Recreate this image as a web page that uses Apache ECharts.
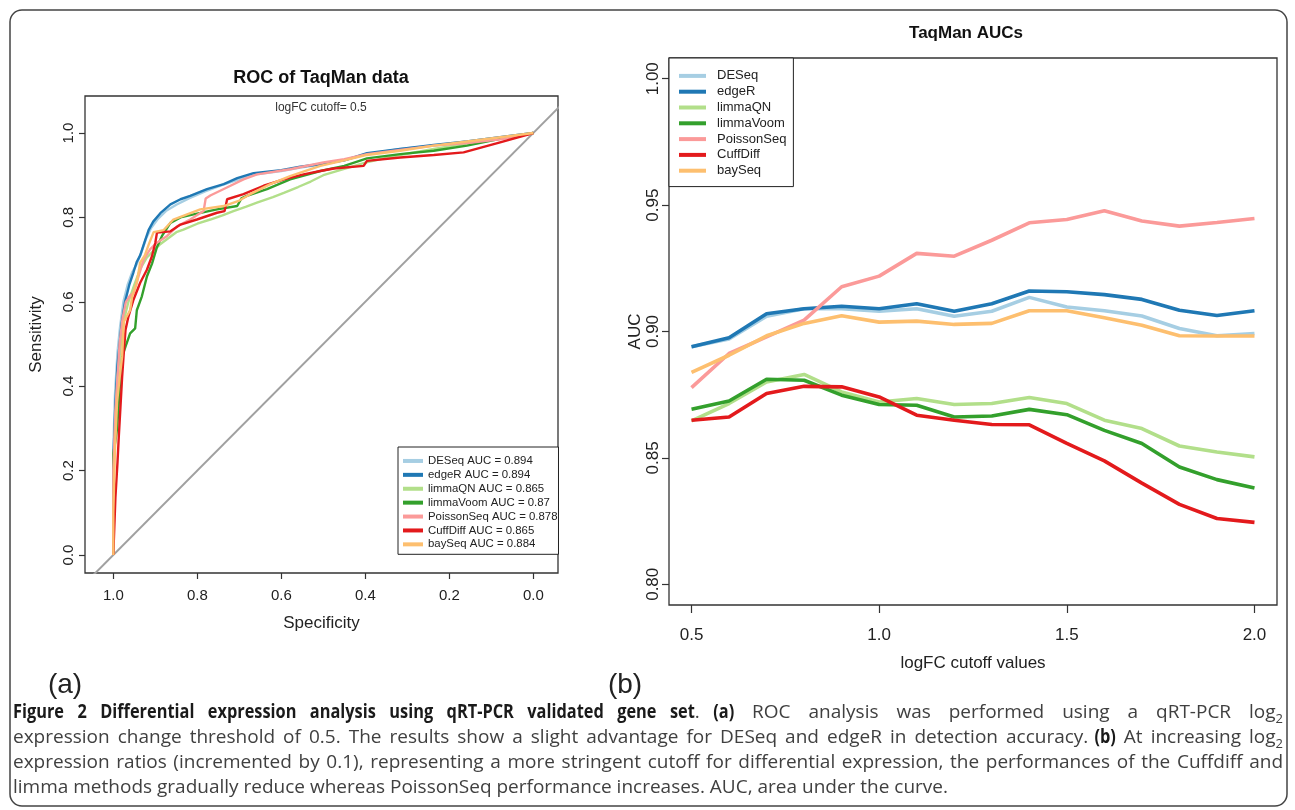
<!DOCTYPE html>
<html>
<head>
<meta charset="utf-8">
<script src="https://cdn.jsdelivr.net/npm/echarts@6/dist/echarts.min.js"></script>
<style>
html, body { margin: 0; padding: 0; background: #fff; }
#main { width: 1295px; height: 810px; }
</style>
</head>
<body>
<div id="main"></div>
<script>
// methods, colours (ColorBrewer Paired) and ROC AUC values from the legend
const methods = ['DESeq', 'edgeR', 'limmaQN', 'limmaVoom', 'PoissonSeq', 'CuffDiff', 'baySeq'];
const colors = ['#a6cee3', '#1f78b4', '#b2df8a', '#33a02c', '#fb9a99', '#e31a1c', '#fdbf6f'];
const rocAuc = ['0.894', '0.894', '0.865', '0.87', '0.878', '0.865', '0.884'];

// ROC curves, [specificity, sensitivity]
const rocDESeq = [[1,0],[1,0.25],[0.996,0.38],[0.99,0.48],[0.984,0.54],[0.976,0.6],[0.966,0.64],[0.955,0.67],[0.944,0.69],[0.934,0.715],[0.922,0.75],[0.91,0.775],[0.895,0.795],[0.875,0.815],[0.85,0.83],[0.82,0.845],[0.78,0.862],[0.74,0.877],[0.7,0.89],[0.66,0.902],[0.6,0.91],[0.555,0.918],[0.5,0.926],[0.45,0.936],[0.396,0.95],[0.317,0.962],[0.237,0.97],[0.158,0.98],[0.079,0.99],[0,1]];
const rocEdgeR = [[1,0],[1,0.22],[0.995,0.36],[0.99,0.45],[0.985,0.5],[0.98,0.55],[0.972,0.6],[0.962,0.64],[0.952,0.67],[0.944,0.695],[0.936,0.71],[0.926,0.74],[0.916,0.77],[0.905,0.79],[0.888,0.81],[0.864,0.831],[0.84,0.843],[0.817,0.851],[0.777,0.867],[0.737,0.879],[0.705,0.893],[0.666,0.905],[0.6,0.912],[0.555,0.92],[0.5,0.927],[0.45,0.935],[0.396,0.952],[0.317,0.962],[0.237,0.972],[0.158,0.98],[0.079,0.99],[0,1]];
const rocLimmaQN = [[1,0],[1,0.2],[0.995,0.32],[0.99,0.42],[0.982,0.5],[0.974,0.56],[0.964,0.6],[0.95,0.64],[0.935,0.68],[0.92,0.705],[0.905,0.72],[0.89,0.735],[0.87,0.75],[0.85,0.765],[0.833,0.771],[0.8,0.785],[0.769,0.795],[0.74,0.805],[0.714,0.815],[0.685,0.825],[0.658,0.835],[0.62,0.848],[0.594,0.858],[0.56,0.872],[0.53,0.885],[0.5,0.9],[0.45,0.915],[0.4,0.93],[0.317,0.948],[0.237,0.962],[0.158,0.975],[0.079,0.988],[0,1]];
const rocLimmaVoom = [[1,0],[1,0.15],[1,0.24],[0.995,0.27],[0.991,0.3],[0.987,0.36],[0.983,0.42],[0.979,0.47],[0.971,0.494],[0.96,0.525],[0.948,0.537],[0.944,0.58],[0.932,0.613],[0.92,0.66],[0.908,0.69],[0.896,0.73],[0.884,0.756],[0.864,0.787],[0.84,0.8],[0.809,0.807],[0.753,0.819],[0.705,0.827],[0.695,0.845],[0.682,0.851],[0.634,0.867],[0.579,0.89],[0.507,0.91],[0.45,0.922],[0.396,0.94],[0.317,0.95],[0.237,0.958],[0.158,0.97],[0.079,0.986],[0,1]];
const rocPoissonSeq = [[1,0],[1,0.2],[0.995,0.34],[0.99,0.42],[0.985,0.5],[0.978,0.56],[0.97,0.6],[0.96,0.615],[0.952,0.62],[0.94,0.66],[0.928,0.7],[0.912,0.725],[0.896,0.74],[0.872,0.756],[0.848,0.779],[0.817,0.795],[0.785,0.815],[0.78,0.845],[0.769,0.852],[0.721,0.875],[0.69,0.89],[0.658,0.902],[0.579,0.914],[0.5,0.93],[0.45,0.938],[0.396,0.95],[0.317,0.96],[0.237,0.97],[0.158,0.976],[0.079,0.985],[0,1]];
const rocCuffDiff = [[1,0],[0.995,0.136],[0.99,0.22],[0.987,0.279],[0.983,0.35],[0.979,0.422],[0.975,0.48],[0.971,0.533],[0.964,0.565],[0.952,0.605],[0.936,0.645],[0.92,0.676],[0.908,0.708],[0.9,0.74],[0.896,0.764],[0.864,0.767],[0.84,0.783],[0.801,0.795],[0.753,0.811],[0.735,0.815],[0.729,0.843],[0.69,0.855],[0.642,0.875],[0.594,0.89],[0.547,0.902],[0.507,0.91],[0.475,0.916],[0.404,0.922],[0.396,0.934],[0.317,0.942],[0.237,0.948],[0.166,0.954],[0.079,0.978],[0,1]];
const rocBaySeq = [[1,0],[1,0.1],[0.996,0.25],[0.991,0.363],[0.985,0.42],[0.979,0.47],[0.975,0.553],[0.96,0.58],[0.955,0.613],[0.944,0.645],[0.936,0.693],[0.925,0.71],[0.916,0.735],[0.908,0.755],[0.904,0.765],[0.88,0.77],[0.857,0.795],[0.793,0.819],[0.737,0.827],[0.7,0.84],[0.674,0.855],[0.626,0.879],[0.579,0.898],[0.507,0.922],[0.45,0.935],[0.396,0.948],[0.317,0.958],[0.237,0.97],[0.158,0.98],[0.079,0.99],[0,1]];
const diagonal = [[1.2,-0.2],[-0.2,1.2]];

// AUC per logFC cutoff
const cutoffs = [0.5,0.6,0.7,0.8,0.9,1.0,1.1,1.2,1.3,1.4,1.5,1.6,1.7,1.8,1.9,2.0];
const aucDESeq = [0.894,0.897,0.906,0.909,0.909,0.908,0.909,0.906,0.908,0.9135,0.9097,0.9082,0.9061,0.9012,0.8983,0.8992];
const aucEdgeR = [0.894,0.8975,0.907,0.909,0.910,0.909,0.911,0.908,0.911,0.916,0.9157,0.9146,0.9127,0.9084,0.9063,0.9082];
const aucLimmaQN = [0.8646,0.8715,0.880,0.883,0.8761,0.8721,0.8735,0.8711,0.8715,0.8739,0.8715,0.8649,0.8616,0.8547,0.8523,0.8504];
const aucLimmaVoom = [0.8692,0.8725,0.8811,0.8807,0.8748,0.8711,0.8708,0.8662,0.8666,0.8692,0.8671,0.8609,0.8557,0.8464,0.8414,0.8381];
const aucPoissonSeq = [0.8778,0.8913,0.8979,0.9045,0.9177,0.9219,0.9309,0.9298,0.9361,0.943,0.9443,0.9478,0.9437,0.9417,0.9431,0.9447];
const aucCuffDiff = [0.8649,0.8662,0.8755,0.8783,0.8781,0.8741,0.8669,0.8649,0.8632,0.8631,0.8557,0.8488,0.840,0.8316,0.826,0.8245];
const aucBaySeq = [0.8838,0.8906,0.8983,0.9032,0.9062,0.9037,0.9041,0.9028,0.9032,0.9082,0.9082,0.9054,0.9025,0.8983,0.8982,0.8982];

const rocTicks = [0, 0.2, 0.4, 0.6, 0.8, 1.0];
const cutoffTicks = [0.5, 1.0, 1.5, 2.0];
const aucTicks = [0.80, 0.85, 0.90, 0.95, 1.00];

// caption, one entry per printed line: [style, text]  (n normal, b bold, s subscript)
const captionLines = [
    [['b', 'Figure 2 Differential expression analysis using qRT-PCR validated gene set'], ['n', '. '], ['b', '(a)'], ['n', ' ROC analysis was performed using a qRT-PCR log'], ['s', '2']],
    [['n', 'expression change threshold of 0.5. The results show a slight advantage for DESeq and edgeR in detection accuracy. '], ['b', '(b)'], ['n', ' At increasing log'], ['s', '2']],
    [['n', 'expression ratios (incremented by 0.1), representing a more stringent cutoff for differential expression, the performances of the Cuffdiff and']],
    [['n', 'limma methods gradually reduce whereas PoissonSeq performance increases. AUC, area under the curve.']]
];
// justified lines end at the right margin, the last one is left ragged
const captionEnds = [1283, 1283, 1283, null];

const rocCurves = [rocDESeq, rocEdgeR, rocLimmaQN, rocLimmaVoom, rocPoissonSeq, rocCuffDiff, rocBaySeq];
const aucLines = [aucDESeq, aucEdgeR, aucLimmaQN, aucLimmaVoom, aucPoissonSeq, aucCuffDiff, aucBaySeq];

const rocNames = methods.map((m, i) => m + ' AUC = ' + rocAuc[i]);
const FONT = '"Liberation Sans", Arial, sans-serif';
const CAP = '"Open Sans", "Noto Sans", sans-serif';

let series = [{
    type: 'line', xAxisIndex: 0, yAxisIndex: 0, data: diagonal, symbol: 'none',
    lineStyle: { color: '#a0a0a0', width: 2 }, silent: true
}];
rocCurves.forEach(function (c, i) {
    series.push({
        name: rocNames[i], type: 'line', xAxisIndex: 0, yAxisIndex: 0, data: c,
        symbol: 'none', color: colors[i], lineStyle: { color: colors[i], width: 2.4 }
    });
});
aucLines.forEach(function (a, i) {
    series.push({
        name: methods[i], type: 'line', xAxisIndex: 1, yAxisIndex: 1,
        data: cutoffs.map((x, j) => [x, a[j]]),
        symbol: 'none', color: colors[i], lineStyle: { color: colors[i], width: 3.6 }
    });
});

function valueAxis(grid, min, max, ticks, digits, opts) {
    return Object.assign({
        type: 'value', gridIndex: grid, min: min, max: max,
        axisLine: { show: false, onZero: false }, splitLine: { show: false },
        axisTick: { customValues: ticks, length: 6, lineStyle: { color: '#333', width: 1.2 } },
        axisLabel: { customValues: ticks, formatter: v => v.toFixed(digits), fontFamily: FONT, color: '#222' },
        nameLocation: 'middle', nameTextStyle: { fontFamily: FONT, fontSize: 17, color: '#222' }
    }, opts);
}

const xAxes = [
    valueAxis(0, -0.0588, 1.0674, rocTicks, 1, { inverse: true, name: 'Specificity', nameGap: 42 }),
    valueAxis(1, 0.44, 2.06, cutoffTicks, 1, { name: 'logFC cutoff values', nameGap: 50 })
];
xAxes[0].axisLabel.fontSize = 15; xAxes[0].axisLabel.margin = 15;
xAxes[1].axisLabel.fontSize = 17; xAxes[1].axisLabel.margin = 22; xAxes[1].axisTick.length = 8;

const yAxes = [
    valueAxis(0, -0.0427, 1.0877, rocTicks, 1, { name: 'Sensitivity', nameGap: 40 }),
    valueAxis(1, 0.7918, 1.0082, aucTicks, 2, { name: 'AUC', nameGap: 17 })
];
yAxes[0].axisLabel.fontSize = 15; yAxes[0].axisLabel.rotate = 90; yAxes[0].axisLabel.margin = 9;
yAxes[1].axisLabel.fontSize = 17; yAxes[1].axisLabel.rotate = 90; yAxes[1].axisLabel.margin = 7; yAxes[1].axisTick.length = 7;

let graphics = [
    { type: 'rect', shape: { x: 10, y: 10, width: 1277, height: 796, r: 12 }, style: { fill: 'none', stroke: '#444', lineWidth: 1.5 }, z: -1 },
    { type: 'text', x: 321, y: 78, style: { text: 'ROC of TaqMan data', font: 'bold 18px ' + FONT, fill: '#111', align: 'center', verticalAlign: 'middle' } },
    { type: 'text', x: 321, y: 108, style: { text: 'logFC cutoff= 0.5', font: '12px ' + FONT, fill: '#333', align: 'center', verticalAlign: 'middle' } },
    { type: 'text', x: 966, y: 33, style: { text: 'TaqMan AUCs', font: 'bold 17px ' + FONT, fill: '#111', align: 'center', verticalAlign: 'middle' } },
    { type: 'text', x: 65, y: 685, style: { text: '(a)', font: '28px ' + FONT, fill: '#222', align: 'center', verticalAlign: 'middle' } },
    { type: 'text', x: 625, y: 685, style: { text: '(b)', font: '28px ' + FONT, fill: '#222', align: 'center', verticalAlign: 'middle' } }
];

// caption: words placed one by one so the full lines can be justified;
// the bold run is set narrower, like a condensed bold face
const capFonts = { n: '19px ' + CAP, b: 'bold 19px ' + CAP, s: '13px ' + CAP };
const capFill = { n: '#404040', b: '#1a1a1a', s: '#404040' };
const capScale = { n: 1, b: 0.86, s: 1 };
const gapWeight = { n: 1, b: 0.75, s: 1 };
const measure = document.createElement('canvas').getContext('2d');
function textWidth(t, st) { measure.font = capFonts[st]; return measure.measureText(t).width * capScale[st]; }

captionLines.forEach(function (segs, li) {
    let words = [], gap = false;
    segs.forEach(function (seg) {
        seg[1].split(' ').forEach(function (part, k) {
            if (k > 0) gap = true;
            if (part === '') return;
            words.push({ t: part, st: seg[0], gap: gap && words.length > 0 });
            gap = false;
        });
    });
    const total = words.reduce((s, w) => s + textWidth(w.t, w.st), 0);
    const weights = words.reduce((s, w) => s + (w.gap ? gapWeight[w.st] : 0), 0);
    let space = textWidth(' ', 'n');
    if (captionEnds[li] && weights) space = (captionEnds[li] - 13 - total) / weights;
    let x = 13;
    const y = 713 + li * 25;
    words.forEach(function (w) {
        if (w.gap) x += space * gapWeight[w.st];
        graphics.push({
            type: 'text', x: x, y: w.st === 's' ? y + 6 : y, scaleX: capScale[w.st],
            style: { text: w.t, font: capFonts[w.st], fill: capFill[w.st], align: 'left', verticalAlign: 'middle' }
        });
        x += textWidth(w.t, w.st);
    });
});

let MyChart = echarts.init(document.getElementById('main'), null, { renderer: 'canvas' });
MyChart.setOption({
    animation: false,
    backgroundColor: '#fff',
    grid: [
        { left: 85, top: 96, width: 473, height: 477, show: true, borderColor: '#333', borderWidth: 1.3 },
        { left: 669, top: 58, width: 608, height: 547, show: true, borderColor: '#333', borderWidth: 1.3 }
    ],
    xAxis: xAxes,
    yAxis: yAxes,
    legend: [{
        data: rocNames, orient: 'vertical', left: 398, top: 447, padding: [7, 1, 3, 5],
        itemGap: 0, itemWidth: 20, itemHeight: 4, icon: 'rect', selectedMode: false,
        backgroundColor: '#fff', borderColor: '#222', borderWidth: 1,
        textStyle: { fontFamily: FONT, fontSize: 11.4, lineHeight: 13.9, color: '#222' }
    }, {
        data: methods, orient: 'vertical', left: 669, top: 58, padding: [10, 7, 8, 10],
        itemGap: 0, itemWidth: 27, itemHeight: 4, icon: 'rect', selectedMode: false,
        backgroundColor: '#fff', borderColor: '#222', borderWidth: 1,
        textStyle: { fontFamily: FONT, fontSize: 13, lineHeight: 15.8, color: '#222', padding: [0, 0, 0, 6] }
    }],
    graphic: graphics,
    series: series
});
</script>
</body>
</html>
